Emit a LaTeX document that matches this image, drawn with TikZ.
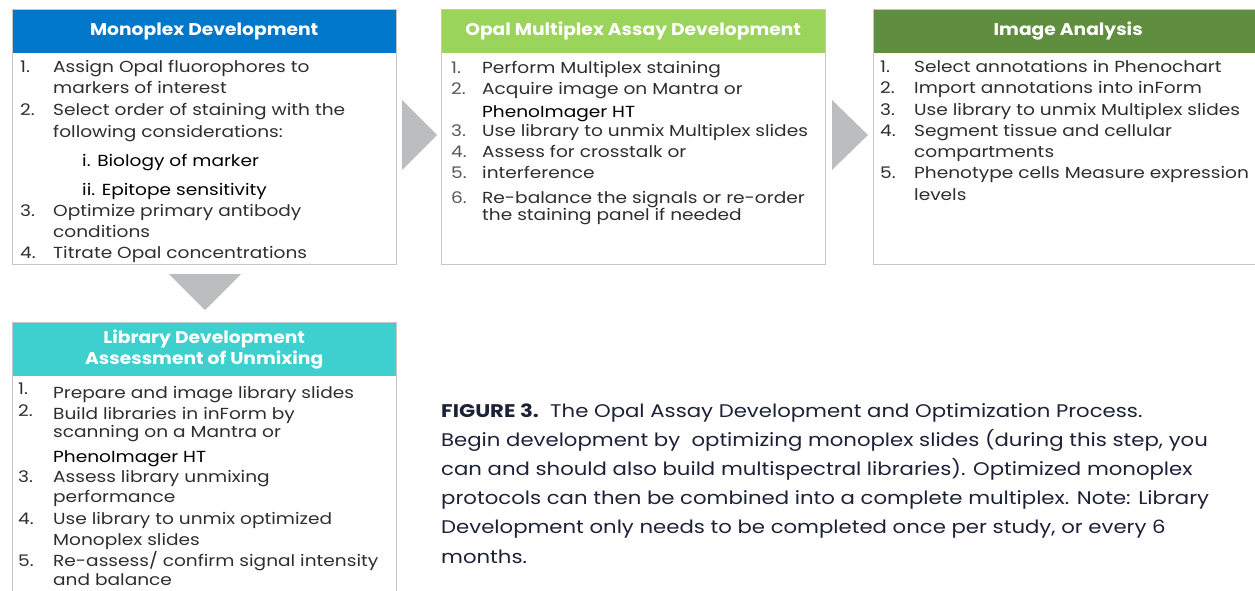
\documentclass[tikz,border=0pt]{standalone}
\usepackage{fontspec}
\usepackage{xcolor}
\setmainfont[FakeStretch=1.16]{Poppins}
\newfontfamily\headfont[FakeStretch=1.1]{Poppins}

\definecolor{monoblue}{HTML}{0077C8}
\definecolor{opalgreen}{HTML}{9BD45B}
\definecolor{imggreen}{HTML}{5E8E3E}
\definecolor{libcyan}{HTML}{3ECFCF}
\definecolor{boxgray}{HTML}{C6C6C6}
\definecolor{arrowgray}{HTML}{BCBDBF}
\definecolor{txtgray}{HTML}{2E2E2E}
\definecolor{capnavy}{HTML}{1C2136}

\tikzset{
  box/.style={draw=boxgray, line width=1pt, anchor=north west, minimum width=384pt, inner sep=0pt},
  head/.style={anchor=north west, minimum width=384pt, minimum height=44pt, inner sep=0pt,
    text=white, align=center, font=\headfont\fontsize{17}{21}\selectfont\bfseries},
  item/.style={anchor=base west, inner sep=0pt, text=txtgray, font=\fontsize{16}{19}\selectfont},
  captext/.style={anchor=base west, inner sep=0pt, text=capnavy, font=\fontsize{18.3}{22}\selectfont}
}

\begin{document}
\begin{tikzpicture}[x=1pt,y=-1pt]
  \useasboundingbox (0,0) rectangle (1255,590);

  % headers
  \node[head, fill=monoblue] (monohead) at (12,9) {Monoplex Development};
  \node[head, fill=opalgreen] (opalhead) at (441,9) {Opal Multiplex Assay Development};
  \node[head, fill=imggreen, minimum width=390pt] (imghead) at (873,9) {Image Analysis};
  \node[head, fill=libcyan, minimum height=54pt] (libhead) at (12,322) {Library Development\\Assessment of Unmixing};

  % boxes
  \node[box, minimum height=255pt] (mono) at (12,9) {};
  \node[box, minimum height=255pt] (opal) at (441,9) {};
  \node[box, minimum height=255pt, minimum width=390pt] (img) at (873,9) {};
  \node[box, minimum height=290pt] (lib) at (12,322) {};

  % arrows
  \fill[arrowgray] (402,100) -- (437,135) -- (402,170) -- cycle;
  \fill[arrowgray] (832,100) -- (868,135) -- (832,170) -- cycle;
  \fill[arrowgray] (169,274) -- (241,274) -- (205,310) -- cycle;

  % monoplex list
  \node[item] (m1n) at (20,72) {1.};
  \node[item] (m1) at (53,72) {Assign Opal fluorophores to};
  \node[item] (m1b) at (53,93) {markers of interest};
  \node[item] (m2n) at (20,115) {2.};
  \node[item] (m2) at (53,115) {Select order of staining with the};
  \node[item] (m2b) at (53,137) {following considerations:};
  \node[item, text=black] (m2i) at (82,166) {i. Biology of marker};
  \node[item, text=black] (m2ii) at (82,195) {ii. Epitope sensitivity};
  \node[item] (m3n) at (20,216) {3.};
  \node[item] (m3) at (53,216) {Optimize primary antibody};
  \node[item] (m3b) at (53,237) {conditions};
  \node[item] (m4n) at (20,258) {4.};
  \node[item] (m4) at (53,258) {Titrate Opal concentrations};

  % opal list
  \node[item, text=txtgray!80] (o1n) at (451,73) {1.};
  \node[item] (o1) at (482,73) {Perform Multiplex staining};
  \node[item, text=txtgray!80] (o2n) at (451,94) {2.};
  \node[item] (o2) at (482,94) {Acquire image on Mantra or};
  \node[item, text=black] (o2b) at (482,117) {PhenoImager HT};
  \node[item, text=txtgray!80] (o3n) at (451,136) {3.};
  \node[item] (o3) at (482,136) {Use library to unmix Multiplex slides};
  \node[item, text=txtgray!80] (o4n) at (451,157) {4.};
  \node[item] (o4) at (482,157) {Assess for crosstalk or};
  \node[item, text=txtgray!80] (o5n) at (451,178) {5.};
  \node[item] (o5) at (482,178) {interference};
  \node[item, text=txtgray!80] (o6n) at (451,203) {6.};
  \node[item] (o6) at (482,203) {Re-balance the signals or re-order};
  \node[item] (o6b) at (482,220) {the staining panel if needed};

  % image analysis list
  \node[item] (i1n) at (880,72) {1.};
  \node[item] (i1) at (914,72) {Select annotations in Phenochart};
  \node[item] (i2n) at (880,93) {2.};
  \node[item] (i2) at (914,93) {Import annotations into inForm};
  \node[item] (i3n) at (880,115) {3.};
  \node[item] (i3) at (914,115) {Use library to unmix Multiplex slides};
  \node[item] (i4n) at (880,136) {4.};
  \node[item] (i4) at (914,136) {Segment tissue and cellular};
  \node[item] (i4b) at (914,157) {compartments};
  \node[item] (i5n) at (880,178) {5.};
  \node[item] (i5) at (914,178) {Phenotype cells Measure expression};
  \node[item] (i5b) at (914,200) {levels};

  % library list
  \node[item] (l1n) at (18,394) {1.};
  \node[item] (l1) at (53,398) {Prepare and image library slides};
  \node[item] (l2n) at (18,416) {2.};
  \node[item] (l2) at (53,419) {Build libraries in inForm by};
  \node[item] (l2b) at (53,437) {scanning on a Mantra or};
  \node[item, text=black] (l2c) at (53,462) {PhenoImager HT};
  \node[item] (l3n) at (18,482) {3.};
  \node[item] (l3) at (53,482) {Assess library unmixing};
  \node[item] (l3b) at (53,502) {performance};
  \node[item] (l4n) at (18,524) {4.};
  \node[item] (l4) at (53,524) {Use library to unmix optimized};
  \node[item] (l4b) at (53,545) {Monoplex slides};
  \node[item] (l5n) at (18,566) {5.};
  \node[item] (l5) at (53,566) {Re-assess/ confirm signal intensity};
  \node[item] (l5b) at (53,585) {and balance};

  % caption
  \node[captext] (c1) at (441,417) {{\bfseries FIGURE 3.}\ \ The Opal Assay Development and Optimization Process.};
  \node[captext] (c2) at (441,446) {Begin development by\ \ optimizing monoplex slides (during this step, you};
  \node[captext] (c3) at (441,475) {can and should also build multispectral libraries). Optimized monoplex};
  \node[captext] (c4) at (441,504) {protocols can then be combined into a complete multiplex. Note: Library};
  \node[captext] (c5) at (441,533) {Development only needs to be completed once per study, or every 6};
  \node[captext] (c6) at (441,563) {months.};
\end{tikzpicture}
\end{document}
